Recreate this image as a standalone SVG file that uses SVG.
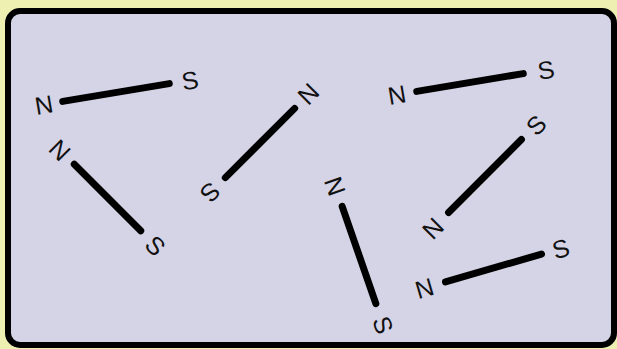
<svg xmlns="http://www.w3.org/2000/svg" width="617" height="349" viewBox="0 0 617 349">
<style>
.bar{stroke:#000;stroke-width:7;stroke-linecap:round;fill:none}
.pole{font-family:"Liberation Sans",Arial,sans-serif;font-size:25px;fill:#111;text-anchor:middle;dominant-baseline:central}
</style>
<rect x="0" y="0" width="617" height="349" fill="#eef0b2"/>
<rect id="panel" x="8" y="11" width="606" height="334" rx="12" fill="#d5d4e6" stroke="#000" stroke-width="6"/>
<g id="magnet1" transform="translate(116,92.5) rotate(-9.5)">
<line class="bar" x1="-54" y1="0" x2="54" y2="0"/>
<text class="pole" x="-73" y="0">N</text><text class="pole" x="75" y="0">S</text>
</g>
<g id="magnet2" transform="translate(107.5,197.5) rotate(45)">
<line class="bar" x1="-47" y1="0" x2="47" y2="0"/>
<text class="pole" x="-67" y="0">N</text><text class="pole" x="68" y="0">S</text>
</g>
<g id="magnet3" transform="translate(260,143) rotate(135)">
<line class="bar" x1="-49" y1="0" x2="49" y2="0"/>
<text class="pole" x="-69" y="0">N</text><text class="pole" x="70" y="0">S</text>
</g>
<g id="magnet4" transform="translate(359,255) rotate(70.9)">
<line class="bar" x1="-51.5" y1="0" x2="51.5" y2="0"/>
<text class="pole" x="-73" y="0">N</text><text class="pole" x="74" y="0">S</text>
</g>
<g id="magnet5" transform="translate(470,82.5) rotate(-9.5)">
<line class="bar" x1="-54" y1="0" x2="54" y2="0"/>
<text class="pole" x="-74" y="0">N</text><text class="pole" x="77" y="0">S</text>
</g>
<g id="magnet6" transform="translate(485,176) rotate(-45)">
<line class="bar" x1="-51.5" y1="0" x2="51.5" y2="0"/>
<text class="pole" x="-74" y="0">N</text><text class="pole" x="72" y="0">S</text>
</g>
<g id="magnet7" transform="translate(493.5,268) rotate(-16.2)">
<line class="bar" x1="-50" y1="0" x2="50" y2="0"/>
<text class="pole" x="-72" y="0">N</text><text class="pole" x="70" y="0">S</text>
</g>
<g id="connectors"/>
</svg>
